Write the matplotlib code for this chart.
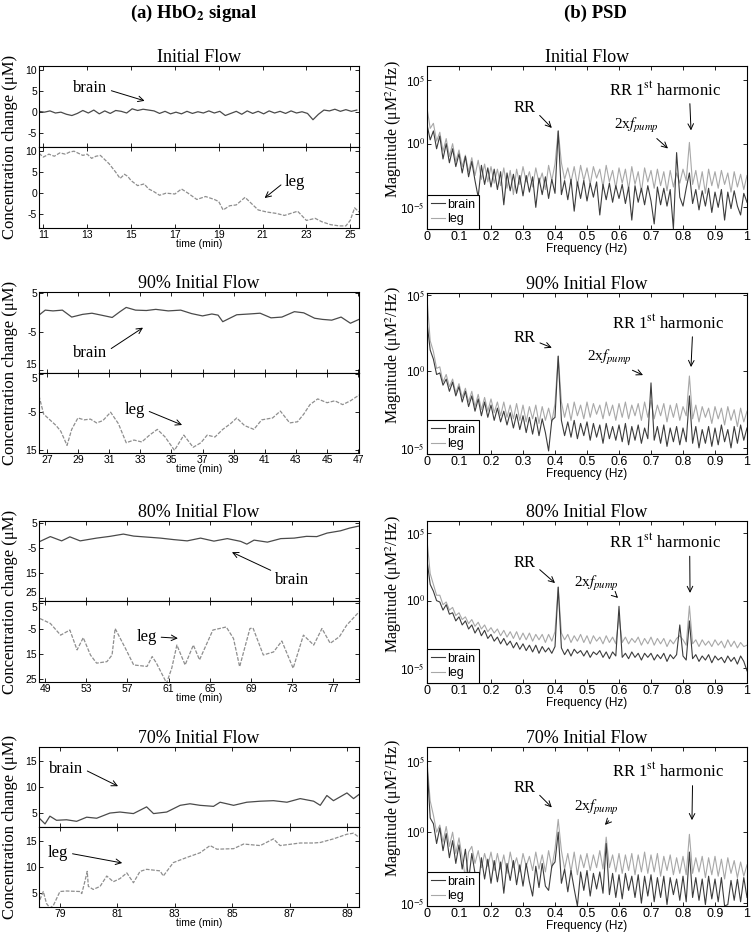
import matplotlib
matplotlib.use("Agg")
import matplotlib.pyplot as plt
import numpy as np
from matplotlib.ticker import FixedLocator, NullLocator

plt.rcParams['font.family'] = ['Liberation Sans', 'DejaVu Sans']
plt.rcParams['mathtext.fontset'] = 'stix'

# ---------------- (a) HbO2 signal, time series ----------------
# Initial flow
t1_brain = 10.8 + 0.25 * np.arange(59)
hbo1_brain = [0.2, 0.0, 0.3, -0.2, 0.0, -0.5, -0.8, -0.3, 0.4, -0.2,
              0.5, -0.4, 0.3, -0.3, 0.4, 0.2, -0.2, 0.8, 0.4, 0.7,
              0.5, 0.3, -0.3, 0.2, -0.4, 0.0, -0.4, 0.2, -0.3, 0.1,
              -0.2, 0.3, -0.2, 0.2, -0.8, -0.3, 0.2, -0.5, 0.3, -0.3,
              0.2, -0.4, 0.3, -0.2, 0.2, -0.3, 0.3, -0.2, 0.1, -0.3,
              -1.8, -0.5, 0.5, 0.3, 0.7, 0.2, 0.6, 0.2, 0.5]
t1_leg = [10.8, 11.0, 11.25, 11.5, 11.75, 12.0, 12.2, 12.4, 12.6, 12.8,
          13.0, 13.2, 13.4, 13.6, 13.8, 14.0, 14.15, 14.3, 14.5, 14.7,
          14.85, 15.0, 15.3, 15.6, 15.8, 16.0, 16.3, 16.6, 17.0, 17.3,
          17.6, 18.0, 18.4, 18.8, 19.0, 19.2, 19.5, 19.8, 20.2, 20.5,
          20.8, 21.2, 21.6, 22.0, 22.3, 22.6, 23.0, 23.4, 23.7, 24.1,
          24.5, 24.8, 25.0, 25.2, 25.4]
hbo1_leg = [9.5, 8.6, 9.3, 8.8, 9.6, 9.3, 9.8, 10.0, 9.5, 9.0,
            9.3, 8.3, 8.8, 9.0, 8.0, 7.0, 6.0, 5.0, 3.5, 4.5,
            4.0, 3.0, 1.8, 2.2, 1.0, 0.5, -0.5, 0.0, -0.2, 1.0,
            0.0, -1.5, -0.8, -1.5, -2.0, -4.0, -3.0, -2.8, -1.0, -2.5,
            -4.0, -4.5, -4.8, -5.3, -4.8, -4.3, -6.5, -6.0, -6.8, -7.5,
            -7.8, -7.8, -6.5, -3.5, -4.5]

# 90% initial flow
t2_brain = [26.5, 26.9, 27.4, 28.0, 28.6, 29.3, 29.9, 30.5, 31.2, 31.7,
            32.1, 32.7, 33.4, 34.0, 34.8, 35.6, 36.3, 37.0, 37.6, 38.0,
            38.3, 39.2, 40.0, 40.7, 41.4, 42.1, 42.9, 43.5, 44.2, 44.7,
            45.3, 45.9, 46.5, 47.05]
hbo2_brain = [-0.7, 0.6, 0.4, 0.6, -1.2, -0.5, -0.2, -0.7, -1.3, 0.2,
              1.3, 0.6, 0.5, 0.8, 0.4, 0.6, -0.3, -0.9, -0.4, -0.7,
              -2.4, -0.6, -0.4, -0.2, -1.4, -1.2, 0.2, -0.1, -1.5, -1.8,
              -2.0, -1.2, -2.8, -1.8]
t2_leg = [26.5, 26.8, 27.2, 27.6, 27.9, 28.3, 28.6, 29.0, 29.4, 29.8,
          30.2, 30.6, 31.1, 31.6, 32.1, 32.6, 33.1, 33.6, 34.1, 34.6,
          35.2, 35.8, 36.4, 36.9, 37.3, 37.8, 38.3, 38.8, 39.2, 39.7,
          40.3, 40.8, 41.5, 42.0, 42.6, 43.1, 43.5, 43.9, 44.4, 45.0,
          45.5, 46.0, 46.5, 47.05]
hbo2_leg = [-0.7, -5.5, -7.0, -8.5, -10.0, -13.7, -9.5, -6.5, -7.0, -6.8,
            -7.8, -7.2, -5.0, -8.0, -13.0, -12.3, -12.8, -11.0, -9.5, -11.5,
            -15.0, -11.0, -14.2, -13.0, -11.0, -11.5, -9.5, -8.0, -6.5, -8.5,
            -9.5, -7.0, -6.5, -4.7, -7.8, -7.5, -5.5, -3.0, -1.5, -2.5,
            -2.0, -3.0, -2.0, -0.5]

# 80% initial flow
t3_brain = [48.4, 49.5, 50.6, 51.4, 52.4, 54.0, 55.3, 56.6, 57.6, 58.9,
            60.2, 61.5, 62.8, 64.1, 65.4, 66.7, 68.0, 68.6, 69.3, 70.6,
            71.9, 73.2, 74.4, 75.4, 76.4, 77.7, 78.6, 79.5]
hbo3_brain = [-2.5, -0.4, -2.1, -0.5, -2.1, -1.0, -0.3, 0.6, -0.2, -0.6,
              -1.0, -1.6, -2.1, -1.0, -2.2, -1.2, -2.3, -3.4, -1.8, -2.6,
              -1.2, -1.0, -0.3, -0.4, 1.0, 1.9, 3.0, 3.8]
t3_leg = [48.5, 49.5, 50.5, 51.4, 52.1, 52.7, 53.4, 54.0, 55.0, 55.5,
          55.8, 56.8, 57.6, 58.9, 59.4, 59.8, 60.8, 61.3, 61.8, 62.6,
          63.4, 64.0, 65.3, 66.6, 67.3, 67.9, 68.9, 69.2, 70.2, 71.2,
          72.0, 73.1, 74.1, 75.1, 75.9, 76.7, 77.6, 78.3, 78.9, 79.5]
hbo3_leg = [-1.1, -3.0, -7.6, -5.6, -13.4, -8.6, -15.4, -18.6, -18.0, -15.4,
            -5.0, -12.8, -19.3, -19.9, -16.0, -18.5, -26.4, -20.6, -11.5, -19.3,
            -11.5, -17.3, -5.6, -4.4, -8.9, -20.0, -5.0, -4.8, -15.4, -14.2,
            -9.9, -20.6, -7.6, -11.5, -5.0, -10.8, -8.2, -3.7, -1.1, 1.5]

# 70% initial flow
t4_brain = [78.3, 78.48, 78.65, 78.88, 79.23, 79.58, 79.93, 80.28, 80.74, 81.09,
            81.56, 82.02, 82.26, 82.72, 83.19, 83.53, 83.88, 84.35, 84.58, 85.05,
            85.51, 85.98, 86.44, 86.91, 87.37, 87.84, 88.07, 88.3, 88.53, 89.0,
            89.23, 89.42]
hbo4_brain = [3.9, 2.9, 4.4, 3.6, 3.7, 3.4, 4.2, 4.0, 5.0, 5.2,
              4.9, 6.2, 4.9, 5.2, 6.5, 6.8, 6.5, 6.3, 7.1, 6.5,
              7.1, 7.3, 7.4, 7.1, 7.8, 7.3, 6.5, 8.4, 7.4, 8.9,
              7.8, 8.6]
t4_leg = [78.3, 78.42, 78.53, 78.65, 78.77, 79.0, 79.23, 79.7, 79.76, 79.87,
          79.95, 79.99, 80.16, 80.4, 80.63, 80.86, 81.09, 81.33, 81.56, 81.79,
          82.02, 82.49, 82.6, 82.95, 83.42, 83.88, 84.23, 84.47, 85.05, 85.4,
          85.98, 86.44, 86.67, 87.37, 87.84, 88.07, 88.53, 89.0, 89.23, 89.42]
hbo4_leg = [3.7, 5.3, 3.0, 2.1, 2.6, 5.3, 5.4, 5.3, 4.9, 7.3,
            9.2, 6.3, 5.7, 6.3, 8.3, 7.2, 7.8, 8.9, 7.0, 9.2,
            9.6, 9.3, 8.3, 10.9, 11.9, 12.8, 14.2, 13.5, 13.6, 14.5,
            14.2, 15.5, 14.2, 14.7, 14.7, 14.8, 15.5, 16.4, 16.6, 15.8]

# ---------------- (b) PSD, log10 of magnitude every 0.01 Hz ----------------
freq = np.linspace(0, 1, 101)
psd1_brain = [1.5, 0.3, 1.0, -0.4, 0.6, -1.2, 0.0, -1.5, -0.4, -1.8,
              -0.8, -2.3, -1.0, -2.6, -1.4, -2.9, -4.2, -1.7, -3.2, -1.9,
              -3.4, -2.0, -3.6, -2.2, -4.8, -2.3, -3.7, -2.4, -3.9, -2.5,
              -4.1, -2.5, -3.8, -2.6, -5.0, -2.7, -4.0, -2.6, -4.3, -2.8,
              -3.9, 1.0, -4.0, -2.9, -4.4, -2.8, -5.3, -3.0, -4.3, -2.9,
              -4.5, -3.1, -4.2, -3.0, -5.6, -3.2, -4.4, -3.1, -4.6, -3.3,
              -4.3, -3.2, -4.7, -3.4, -6.0, -3.3, -4.6, -3.5, -4.8, -3.3,
              -4.5, -6.3, -3.4, -4.8, -3.5, -4.9, -3.6, -6.7, -0.7, -4.2,
              -4.9, -3.5, -2.3, -4.7, -3.6, -5.2, -3.7, -4.9, -3.5, -5.4,
              -3.8, -5.0, -3.6, -6.0, -3.8, -5.1, -3.7, -4.9, -5.6, -3.9, -4.6]
psd1_leg = [2.8, 1.2, 1.6, 0.2, 0.9, -0.6, 0.4, -1.0, 0.0, -1.4,
            -0.5, -1.8, -0.9, -2.2, -1.1, -2.5, -1.3, -2.8, -1.6, -3.0,
            -1.8, -3.1, -2.0, -3.3, -1.9, -3.5, -2.1, -4.0, -2.0, -3.2,
            -1.8, -3.0, -2.2, -3.4, -1.9, -3.1, -2.3, -3.6, -1.7, -2.9,
            -1.6, 1.0, -1.5, -2.8, -1.9, -3.0, -1.8, -3.3, -1.7, -2.9,
            -1.9, -3.2, -1.8, -2.7, -2.0, -3.4, -1.7, -3.0, -2.1, -3.5,
            -1.9, -3.1, -2.0, -3.6, -1.8, -3.2, -2.2, -3.8, -1.9, -3.0,
            -2.1, -3.5, -2.0, -3.3, -2.2, -3.7, -2.1, -3.4, -2.3, -3.1,
            -2.0, -2.9, 0.1, -3.2, -2.1, -3.6, -2.2, -3.9, -2.0, -3.3,
            -2.2, -3.5, -2.1, -3.2, -2.3, -3.8, -2.2, -3.4, -2.4, -3.6, -2.5]

psd2_brain = [3.2, 1.4, 0.8, -0.2, -0.1, -0.9, -0.5, -1.3, -0.7, -1.6,
              -1.0, -2.0, -1.3, -2.3, -1.6, -2.6, -1.8, -2.9, -2.0, -3.0,
              -2.2, -3.2, -2.4, -3.3, -2.6, -3.5, -2.7, -3.7, -2.8, -3.8,
              -2.9, -4.0, -3.0, -4.1, -3.0, -4.2, -3.1, -4.0, -5.2, -3.2,
              -3.0, 1.0, -3.2, -4.2, -3.3, -4.3, -3.2, -4.4, -3.4, -4.2,
              -3.3, -4.5, -3.4, -4.3, -3.5, -4.7, -3.4, -4.4, -3.6, -4.5,
              -3.5, -4.6, -3.4, -4.8, -3.6, -4.5, -3.5, -4.7, -3.7, -4.4,
              -0.75, -4.5, -3.6, -4.7, -3.5, -4.9, -3.7, -4.6, -3.6, -4.8,
              -3.7, -4.6, -1.6, -4.7, -3.6, -5.0, -3.8, -4.7, -3.6, -4.9,
              -3.7, -4.8, -3.5, -4.6, -3.8, -5.0, -3.6, -4.7, -3.5, -4.5, -3.7]
psd2_leg = [4.8, 2.0, 1.3, 0.2, 0.3, -0.7, -0.2, -1.0, -0.5, -1.4,
            -0.8, -1.7, -1.1, -2.0, -1.3, -2.3, -1.5, -2.5, -1.7, -2.6,
            -1.8, -2.7, -2.0, -2.9, -2.0, -3.0, -2.2, -3.1, -2.1, -3.2,
            -2.2, -3.3, -2.3, -3.1, -2.2, -3.4, -2.3, -3.2, -2.4, -3.3,
            -2.1, 1.0, -2.0, -3.0, -2.1, -3.2, -2.0, -2.9, -2.2, -3.1,
            -2.0, -3.0, -2.1, -2.8, -2.2, -3.1, -2.0, -2.9, -2.2, -3.2,
            -2.1, -3.0, -2.0, -3.1, -2.2, -2.9, -2.1, -3.2, -2.0, -3.0,
            -1.9, -3.1, -2.2, -2.9, -2.1, -3.3, -2.2, -3.0, -2.1, -3.2,
            -2.3, -2.9, -0.3, -3.1, -2.2, -3.3, -2.3, -3.0, -2.4, -3.4,
            -2.3, -3.1, -2.4, -3.5, -2.3, -3.2, -2.5, -3.6, -2.4, -3.3, -2.6]

psd3_brain = [3.0, 1.2, 0.7, 0.0, -0.1, -0.7, -0.3, -1.0, -0.9, -1.5,
              -1.2, -1.8, -1.5, -2.1, -1.8, -2.4, -2.0, -2.6, -2.2, -2.8,
              -2.5, -3.0, -2.7, -3.2, -2.8, -3.3, -3.0, -3.5, -3.1, -3.6,
              -3.2, -3.7, -3.3, -3.8, -3.3, -3.9, -3.4, -3.8, -3.5, -3.9,
              -3.4, 1.0, -3.5, -4.0, -3.6, -4.1, -3.6, -3.9, -3.7, -4.1,
              -3.7, -4.2, -3.8, -4.0, -3.7, -4.2, -3.8, -4.3, -3.8, -4.1,
              -0.42, -4.2, -3.9, -4.3, -3.8, -4.2, -3.9, -4.4, -3.9, -4.2,
              -3.9, -4.4, -4.0, -4.3, -3.9, -4.5, -4.0, -4.3, -4.0, -1.8,
              -4.1, -4.4, -1.5, -4.3, -4.0, -4.5, -4.1, -4.4, -4.0, -4.6,
              -4.1, -4.4, -4.2, -4.6, -4.1, -4.5, -4.2, -4.7, -4.1, -4.5, -5.2]
psd3_leg = [4.5, 2.0, 1.2, 0.4, 0.4, -0.3, -0.1, -0.7, -0.5, -1.1,
            -0.9, -1.4, -1.2, -1.7, -1.4, -1.9, -1.6, -2.1, -1.8, -2.3,
            -2.0, -2.4, -2.1, -2.6, -2.2, -2.7, -2.3, -2.8, -2.3, -2.9,
            -2.4, -2.9, -2.4, -3.0, -2.5, -2.9, -2.5, -3.1, -2.5, -3.0,
            -2.3, 1.0, -2.4, -2.9, -2.5, -3.1, -2.6, -3.0, -2.5, -3.1,
            -2.6, -3.2, -2.6, -3.0, -2.7, -3.2, -2.6, -3.1, -2.7, -3.2,
            -1.2, -3.1, -2.7, -3.2, -2.8, -3.1, -2.7, -3.3, -2.8, -3.2,
            -2.7, -3.3, -2.8, -3.2, -2.8, -3.4, -2.9, -3.2, -2.8, -2.6,
            -2.9, -3.3, -0.4, -3.2, -2.9, -3.4, -2.9, -3.3, -3.0, -3.4,
            -2.9, -3.3, -3.0, -3.5, -2.9, -3.4, -3.0, -3.5, -3.1, -3.4, -3.3]

psd4_brain = [4.8, 1.0, 0.6, -0.8, 0.3, -1.3, -0.1, -1.8, -0.6, -2.2,
              -0.9, -2.6, -1.2, -3.4, -1.5, -2.9, -3.9, -1.8, -3.3, -1.9,
              -3.6, -2.0, -3.5, -2.1, -4.3, -2.2, -3.4, -2.0, -3.7, -2.3,
              -3.8, -2.2, -3.5, -4.5, -2.4, -3.9, -2.2, -3.8, -4.1, -2.4,
              -2.1, 0.0, -3.6, -2.6, -4.2, -2.7, -4.0, -5.2, -2.8, -4.1,
              -2.7, -4.5, -2.9, -4.0, -2.8, -4.3, -0.8, -4.4, -2.9, -4.6,
              -3.0, -4.7, -2.9, -4.1, -3.1, -4.6, -3.0, -5.0, -3.1, -4.5,
              -3.0, -4.9, -3.2, -4.6, -3.1, -5.1, -3.2, -4.4, -3.3, -4.8,
              -3.1, -4.9, -1.4, -4.6, -3.2, -4.8, -3.3, -5.1, -3.1, -4.7,
              -3.3, -4.9, -3.2, -5.2, -5.1, -3.4, -4.8, -3.3, -4.9, -3.2, -4.6]
psd4_leg = [5.0, 2.2, 1.2, 0.0, 0.5, -0.7, 0.4, -1.0, 0.0, -1.5,
            -0.4, -1.8, -3.2, -1.4, -1.0, -2.2, -1.3, -2.5, -1.5, -2.4,
            -1.4, -2.7, -1.5, -2.6, -1.6, -2.9, -1.4, -2.5, -1.8, -2.8,
            -1.5, -2.4, -1.7, -2.7, -1.4, -2.6, -1.6, -2.8, -1.3, -2.5,
            -1.2, 0.9, -1.3, -2.6, -1.5, -2.8, -1.4, -3.0, -1.6, -2.5,
            -1.5, -2.7, -1.6, -2.5, -1.3, -2.6, -0.35, -2.5, -1.6, -2.8,
            -1.5, -2.9, -1.6, -2.7, -1.5, -3.0, -1.6, -2.8, -1.4, -2.9,
            -1.6, -2.8, -1.5, -3.1, -1.7, -2.7, -1.6, -3.0, -1.8, -2.9,
            -1.7, -3.0, -0.15, -2.9, -1.8, -2.8, -1.7, -3.2, -1.8, -3.0,
            -1.7, -3.1, -1.9, -3.3, -1.8, -2.9, -2.0, -3.2, -2.1, -3.1, -2.3]

titles = ['Initial Flow', '90% Initial Flow', '80% Initial Flow', '70% Initial Flow']

W, H = 751, 933
fig = plt.figure(figsize=(W / 100, H / 100), dpi=100)

BRAIN_C = '#4a4a4a'
LEG_C = '#8e8e8e'
SERIF = 'Liberation Serif'


def rect(l, t, r, b):
    return [l / W, 1 - b / H, (r - l) / W, (b - t) / H]


def style(ax, fs):
    ax.tick_params(direction='in', top=True, right=True, length=3, width=0.6,
                   labelsize=fs, pad=1.5)
    for s in ax.spines.values():
        s.set_linewidth(0.8)


def arrow(ax, text, xy, xytext, fs=12, relpos=(0.5, 0.5)):
    ax.annotate(text, xy=xy, xytext=xytext, xycoords='axes fraction',
                textcoords='axes fraction', ha='center', va='center',
                fontsize=fs, family=SERIF,
                arrowprops=dict(arrowstyle='->', lw=0.7, color='k',
                                mutation_scale=10, shrinkA=1, shrinkB=0,
                                relpos=relpos))


# ---------------- left column ----------------
left_rows = [
    (66, 147, 228, t1_brain, hbo1_brain, t1_leg, hbo1_leg, (10.8, 25.4), range(11, 26, 2),
     (-8.3, 11), [-5, 0, 5, 10], ['-5', '0', '5', '10'],
     ((0.33, 0.57), (0.16, 0.73), (1, 0.4)), ((0.705, 0.37), (0.80, 0.57), (0, 0.5))),
    (292, 373, 453, t2_brain, hbo2_brain, t2_leg, hbo2_leg, (26.5, 47.05), range(27, 48, 2),
     (-15.7, 5.3), [-15, -5, 5], ['15', '-5', '5'],
     ((0.325, 0.56), (0.16, 0.25), (1, 0.6)), ((0.447, 0.35), (0.30, 0.54), (1, 0.5))),
    (521, 601, 682, t3_brain, hbo3_brain, t3_leg, hbo3_leg, (48.4, 79.5), range(49, 78, 4),
     (-26, 5.8), [-25, -15, -5, 5], ['25', '15', '-5', '5'],
     ((0.603, 0.61), (0.79, 0.26), (0, 1)), ((0.434, 0.54), (0.337, 0.556), (1, 0.5))),
    (747, 827, 907, t4_brain, hbo4_brain, t4_leg, hbo4_leg, (78.27, 89.42), range(79, 90, 2),
     (2.3, 17.8), [5, 10, 15], ['5', '10', '15'],
     ((0.247, 0.51), (0.085, 0.725), (1, 0.5)), ((0.26, 0.55), (0.06, 0.675), (1, 0.5))),
]

for i, (top, mid, bot, tb, yb, tl, yl, xlim, xt, ylim, yt, ytl, ab, al) in enumerate(left_rows):
    axb = fig.add_axes(rect(39, top, 359, mid))
    axl = fig.add_axes(rect(39, mid, 359, bot))
    axb.plot(tb, yb, color=BRAIN_C, lw=0.9)
    axl.plot(tl, yl, color=LEG_C, lw=0.9, ls=(0, (3, 1.2)))
    for ax in (axb, axl):
        ax.set_xlim(*xlim)
        ax.set_ylim(*ylim)
        ax.set_xticks(list(xt))
        ax.set_yticks(yt)
        ax.set_yticklabels(ytl)
        style(ax, 7.5)
    axb.set_xticklabels([])
    # labels meeting on the shared edge: keep them just apart
    if ylim[0] > yt[0] - 1.5 and ylim[1] < yt[-1] + 1.5:
        axb.get_yticklabels()[0].set_va('bottom')
        axl.get_yticklabels()[-1].set_va('top')
    axl.set_xlabel('time (min)', fontsize=7.5, labelpad=-1)
    axb.set_title(titles[i], family=SERIF, fontsize=13, pad=3)
    arrow(axb, 'brain', ab[0], ab[1], relpos=ab[2])
    arrow(axl, 'leg', al[0], al[1], relpos=al[2])
    fig.text(10 / W, 1 - (top + bot) / 2 / H, 'Concentration change (\u03bcM)',
             rotation=90, ha='center', va='center', family=SERIF, fontsize=12)

# ---------------- right column ----------------
right_rows = [
    (66, 229, psd1_brain, psd1_leg, (-6.7, 6.1),
     ((0.39, 0.62), (0.306, 0.74)), ((0.753, 0.494), (0.656, 0.636)),
     ((0.825, 0.605), (0.744, 0.85))),
    (293, 454, psd2_brain, psd2_leg, (-5.4, 5.13),
     ((0.39, 0.66), (0.306, 0.72)), ((0.675, 0.49), (0.57, 0.60)),
     ((0.825, 0.54), (0.753, 0.81))),
    (521, 683, psd3_brain, psd3_leg, (-6.1, 5.9),
     ((0.40, 0.617), (0.306, 0.74)), ((0.597, 0.525), (0.53, 0.617)),
     ((0.822, 0.556), (0.744, 0.864))),
    (747, 906, psd4_brain, psd4_leg, (-5.2, 6.0),
     ((0.39, 0.62), (0.306, 0.74)), ((0.556, 0.51), (0.53, 0.62)),
     ((0.828, 0.54), (0.753, 0.84))),
]

for i, (top, bot, pb, pl, ylim, a_rr, a_pump, a_harm) in enumerate(right_rows):
    ax = fig.add_axes(rect(427, top, 747, bot))
    ax.plot(freq, 10.0 ** np.array(pl), color='#a8a8a8', lw=0.8, label='leg')
    ax.plot(freq, 10.0 ** np.array(pb), color='#3c3c3c', lw=0.8, label='brain')
    ax.set_yscale('log')
    ax.set_xlim(0, 1)
    ax.set_ylim(10.0 ** ylim[0], 10.0 ** ylim[1])
    ax.yaxis.set_major_locator(FixedLocator([1e-5, 1, 1e5]))
    ax.yaxis.set_minor_locator(NullLocator())
    ax.set_yticklabels(['10$^{-5}$', '10$^{0}$', '10$^{5}$'])
    ax.set_xticks(np.arange(0, 1.01, 0.1))
    ax.set_xticklabels(['0', '0.1', '0.2', '0.3', '0.4', '0.5', '0.6', '0.7', '0.8', '0.9', '1'])
    style(ax, 9)
    ax.tick_params(axis='y', labelsize=8.5)
    ax.set_xlabel('Frequency (Hz)', fontsize=8.5, labelpad=0)
    ax.set_title(titles[i], family=SERIF, fontsize=13, pad=3)
    h, lab = ax.get_legend_handles_labels()
    leg = ax.legend(h[::-1], lab[::-1], loc='lower left', fontsize=9, frameon=True,
                    fancybox=False, edgecolor='k', framealpha=1, borderaxespad=0,
                    handlelength=1.1, handletextpad=0.2, labelspacing=0.2,
                    borderpad=0.3)
    leg.get_frame().set_linewidth(0.8)
    arrow(ax, 'RR', a_rr[0], a_rr[1], relpos=(1, 0.3))
    arrow(ax, '2x$f_{pump}$', a_pump[0], a_pump[1], fs=11, relpos=(0.85, 0))
    arrow(ax, 'RR 1$^{\\rm st}$ harmonic', a_harm[0], a_harm[1], relpos=(0.72, 0))
    fig.text(394 / W, 1 - ((top + bot) / 2 - 18) / H, 'Magnitude (\u03bcM$^2$/Hz)',
             rotation=90, ha='center', va='center', family=SERIF, fontsize=11.5)

# column headings
fig.text(194 / W, 1 - 13 / H, '(a) HbO$_\\mathbf{2}$ signal', ha='center', va='center',
         family=SERIF, fontsize=13.5, weight='bold')
fig.text(595 / W, 1 - 13 / H, '(b) PSD', ha='center', va='center',
         family=SERIF, fontsize=13.5, weight='bold')

fig.savefig('out.png', dpi=100)
